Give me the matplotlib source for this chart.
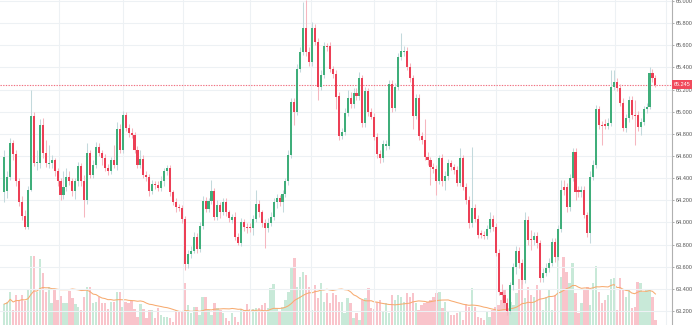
import numpy as np
import pandas as pd
import matplotlib
matplotlib.use("Agg")
import matplotlib.pyplot as plt
from matplotlib.ticker import FormatStrFormatter
from matplotlib.transforms import blended_transform_factory

plt.rcParams['font.family'] = ['Liberation Sans', 'DejaVu Sans']

# daily candles, oldest first
opens = [
    64.27, 64.28, 64.41, 64.72, 64.62, 64.37, 64.18, 64.06, 63.96, 64.29,
    64.96, 64.54, 64.54, 64.88, 64.63, 64.53, 64.54, 64.56, 64.46, 64.37,
    64.25, 64.32, 64.41, 64.37, 64.28, 64.37, 64.51, 64.37, 64.20, 64.63,
    64.43, 64.52, 64.68, 64.63, 64.58, 64.49, 64.46, 64.56, 64.52, 64.84,
    64.65, 64.97, 64.85, 64.81, 64.79, 64.65, 64.52, 64.57, 64.43, 64.41,
    64.28, 64.35, 64.34, 64.31, 64.37, 64.46, 64.49, 64.27, 64.18, 64.14,
    64.13, 64.03, 63.62, 63.71, 63.74, 63.87, 63.76, 63.97, 64.19, 64.12,
    64.19, 64.28, 64.05, 64.16, 64.09, 64.18, 64.09, 64.02, 64.05, 63.87,
    63.81, 64.00, 63.96, 63.96, 63.95, 64.03, 64.17, 64.09, 63.99, 63.95,
    63.99, 64.05, 64.18, 64.22, 64.18, 64.26, 64.37, 64.61, 65.09, 65.00,
    65.39, 65.54, 65.76, 65.54, 65.45, 65.76, 65.63, 65.22, 65.33, 65.59,
    65.59, 65.39, 65.34, 65.14, 64.78, 64.82, 64.99, 65.12, 65.07, 65.17,
    65.14, 65.30, 64.90, 65.19, 65.00, 64.95, 64.77, 64.62, 64.58, 64.69,
    64.69, 65.25, 65.03, 65.22, 65.49, 65.54, 65.55, 65.40, 65.30, 64.96,
    65.12, 64.78, 64.74, 64.59, 64.56, 64.50, 64.48, 64.37, 64.58, 64.37,
    64.42, 64.54, 64.50, 64.47, 64.36, 64.58, 64.32, 64.20, 63.99, 64.13,
    64.03, 63.90, 63.89, 63.88, 63.94, 64.03, 63.96, 63.72, 63.37, 63.34,
    63.27, 63.20, 63.43, 63.60, 63.74, 63.63, 63.48, 64.02, 63.85, 63.84,
    63.88, 63.81, 63.50, 63.54, 63.59, 63.63, 63.82, 63.69, 63.94, 64.32,
    64.32, 64.14, 64.40, 64.64, 64.29, 64.27, 64.29, 64.07, 63.90, 64.41,
    64.52, 65.02, 64.88, 64.89, 64.87, 64.90, 65.22, 65.27, 65.21, 65.08,
    64.85, 64.94, 65.11, 64.97, 64.97, 64.86, 64.91, 65.02, 65.04, 65.35,
    65.30,
]
highs = [
    64.65, 64.46, 64.76, 64.74, 64.65, 64.40, 64.24, 64.11, 64.33, 65.20,
    65.00, 64.65, 64.93, 64.94, 64.74, 64.70, 64.61, 64.58, 64.49, 64.40,
    64.46, 64.49, 64.46, 64.40, 64.40, 64.55, 64.54, 64.43, 64.72, 64.65,
    64.56, 64.73, 64.72, 64.65, 64.62, 64.53, 64.59, 64.70, 64.91, 64.89,
    65.01, 65.00, 64.89, 64.85, 64.82, 64.69, 64.65, 64.61, 64.46, 64.44,
    64.38, 64.37, 64.37, 64.42, 64.49, 64.52, 64.52, 64.29, 64.22, 64.17,
    64.16, 64.06, 63.75, 63.79, 63.91, 63.90, 64.00, 64.24, 64.23, 64.22,
    64.38, 64.31, 64.20, 64.18, 64.22, 64.22, 64.11, 64.08, 64.09, 63.90,
    64.04, 64.03, 63.99, 63.99, 64.07, 64.29, 64.20, 64.11, 64.03, 64.04,
    64.09, 64.22, 64.26, 64.25, 64.29, 64.40, 64.65, 65.12, 65.12, 65.43,
    65.58, 65.99, 66.01, 65.58, 65.81, 65.79, 65.67, 65.38, 65.63, 65.62,
    65.63, 65.41, 65.38, 65.18, 64.85, 65.03, 65.20, 65.18, 65.21, 65.21,
    65.36, 65.33, 65.22, 65.21, 65.03, 64.99, 64.81, 64.65, 64.74, 64.74,
    65.29, 65.29, 65.26, 65.53, 65.71, 65.59, 65.58, 65.44, 65.33, 65.16,
    65.16, 64.82, 64.93, 64.64, 64.59, 64.54, 64.52, 64.61, 64.62, 64.46,
    64.57, 64.56, 64.53, 64.51, 64.67, 64.61, 64.36, 64.24, 64.68, 64.17,
    64.07, 63.93, 63.92, 63.98, 64.09, 64.07, 63.99, 63.76, 63.44, 63.39,
    63.32, 63.46, 63.63, 63.79, 63.78, 63.67, 64.09, 64.06, 63.93, 63.91,
    63.91, 63.84, 63.59, 63.63, 63.68, 63.86, 63.86, 63.98, 64.38, 64.38,
    64.36, 64.44, 64.67, 64.67, 64.33, 64.33, 64.33, 64.09, 64.46, 64.56,
    65.06, 65.05, 64.92, 64.93, 64.94, 65.38, 65.38, 65.30, 65.25, 65.12,
    64.98, 65.14, 65.14, 65.11, 65.01, 64.94, 65.05, 65.08, 65.40, 65.39,
    65.33,
]
lows = [
    64.18, 64.22, 64.38, 64.56, 64.33, 64.15, 64.02, 63.94, 63.94, 64.28,
    64.51, 64.47, 64.49, 64.58, 64.50, 64.49, 64.49, 64.42, 64.33, 64.20,
    64.21, 64.28, 64.34, 64.24, 64.21, 64.33, 64.33, 64.05, 64.17, 64.40,
    64.40, 64.49, 64.60, 64.52, 64.46, 64.43, 64.44, 64.49, 64.47, 64.63,
    64.63, 64.83, 64.77, 64.76, 64.63, 64.49, 64.49, 64.40, 64.37, 64.24,
    64.26, 64.30, 64.28, 64.28, 64.33, 64.43, 64.24, 64.16, 64.09, 64.10,
    63.99, 63.57, 63.59, 63.68, 63.72, 63.72, 63.73, 63.94, 64.09, 64.09,
    64.17, 64.02, 64.02, 64.04, 64.07, 64.06, 64.00, 63.99, 63.84, 63.80,
    63.79, 63.92, 63.90, 63.91, 63.89, 64.00, 64.05, 63.96, 63.77, 63.91,
    63.97, 64.02, 64.13, 64.15, 64.09, 64.23, 64.34, 64.58, 64.88, 64.97,
    65.36, 65.51, 65.50, 65.41, 65.41, 65.60, 65.11, 65.20, 65.30, 65.55,
    65.36, 65.30, 65.02, 64.74, 64.75, 64.79, 64.96, 65.03, 65.03, 65.11,
    65.11, 64.86, 64.86, 64.96, 64.93, 64.74, 64.58, 64.54, 64.55, 64.65,
    64.66, 65.00, 65.01, 65.20, 65.47, 65.50, 65.38, 65.27, 64.84, 64.93,
    64.74, 64.71, 64.56, 64.52, 64.34, 64.45, 64.25, 64.35, 64.33, 64.29,
    64.38, 64.47, 64.44, 64.33, 64.33, 64.29, 64.17, 63.95, 63.96, 64.00,
    63.86, 63.86, 63.85, 63.85, 63.91, 63.92, 63.70, 63.34, 63.30, 63.24,
    63.16, 63.17, 63.39, 63.53, 63.59, 63.44, 63.45, 63.80, 63.75, 63.80,
    63.77, 63.46, 63.46, 63.52, 63.55, 63.61, 63.64, 63.66, 63.91, 64.25,
    64.09, 64.10, 64.37, 64.20, 64.23, 64.23, 64.04, 63.87, 63.81, 64.38,
    64.49, 64.84, 64.70, 64.84, 64.84, 64.87, 65.20, 65.19, 65.05, 64.83,
    64.82, 64.91, 64.93, 64.70, 64.83, 64.79, 64.88, 64.99, 65.02, 65.27,
    65.22,
]
closes = [
    64.59, 64.41, 64.72, 64.62, 64.37, 64.18, 64.06, 63.96, 64.29, 64.96,
    64.54, 64.55, 64.88, 64.63, 64.54, 64.54, 64.56, 64.46, 64.37, 64.25,
    64.32, 64.41, 64.37, 64.28, 64.37, 64.51, 64.37, 64.20, 64.63, 64.43,
    64.52, 64.68, 64.63, 64.58, 64.49, 64.46, 64.56, 64.52, 64.84, 64.65,
    64.97, 64.85, 64.81, 64.79, 64.65, 64.52, 64.57, 64.43, 64.41, 64.28,
    64.35, 64.34, 64.31, 64.37, 64.46, 64.49, 64.27, 64.18, 64.14, 64.13,
    64.03, 63.62, 63.71, 63.74, 63.87, 63.76, 63.97, 64.19, 64.12, 64.19,
    64.28, 64.05, 64.16, 64.09, 64.18, 64.09, 64.04, 64.05, 63.87, 63.81,
    64.00, 63.96, 63.95, 63.95, 64.03, 64.17, 64.09, 63.99, 63.95, 63.99,
    64.05, 64.18, 64.22, 64.18, 64.26, 64.37, 64.61, 65.09, 65.00, 65.39,
    65.54, 65.76, 65.54, 65.45, 65.76, 65.63, 65.22, 65.33, 65.59, 65.58,
    65.39, 65.34, 65.13, 64.78, 64.82, 64.99, 65.12, 65.07, 65.17, 65.14,
    65.30, 64.90, 65.19, 65.00, 64.95, 64.77, 64.62, 64.58, 64.71, 64.71,
    65.25, 65.03, 65.22, 65.49, 65.55, 65.55, 65.40, 65.30, 64.96, 65.12,
    64.78, 64.74, 64.59, 64.56, 64.50, 64.48, 64.37, 64.58, 64.37, 64.42,
    64.54, 64.50, 64.47, 64.36, 64.58, 64.32, 64.20, 63.99, 64.13, 64.03,
    63.89, 63.89, 63.88, 63.94, 64.03, 63.96, 63.72, 63.37, 63.34, 63.27,
    63.20, 63.43, 63.60, 63.74, 63.63, 63.48, 64.02, 63.84, 63.84, 63.88,
    63.81, 63.50, 63.54, 63.59, 63.63, 63.82, 63.69, 63.94, 64.29, 64.29,
    64.14, 64.40, 64.64, 64.27, 64.27, 64.29, 64.07, 63.90, 64.41, 64.52,
    65.02, 64.88, 64.87, 64.87, 64.90, 65.22, 65.27, 65.21, 65.08, 64.85,
    64.94, 65.11, 64.97, 64.96, 64.86, 64.91, 65.02, 65.04, 65.35, 65.30,
    65.245,
]
# traded volume per session, thousand lots
volumes = [
    21, 23, 33, 15, 30, 25, 30, 24, 35, 69, 69, 33, 66, 52, 33, 38,
    22, 35, 25, 29, 22, 22, 34, 27, 21, 18, 15, 28, 38, 38, 22, 23, 28, 22, 22,
    16, 23, 23, 33, 33, 18, 23, 22, 24, 16, 8, 21, 16, 7, 15, 15, 7, 17, 10,
    8, 8, 7, 3, 15, 13, 13, 42,
    20, 12, 18, 18, 10, 28, 28, 15, 10, 22, 17,
    15, 12, 7, 4, 12, 8, 3, 16, 15, 21, 16, 16, 17, 17, 20, 22, 17, 37, 41, 17,
    13, 18, 25, 33, 58, 67, 38, 48, 53, 50, 38, 15, 40, 27, 42, 23, 32, 22, 32,
    30, 23, 23, 12, 27, 22, 7, 12, 5, 25, 27, 37, 17, 16, 23, 25, 13, 22, 12, 30,
    25, 30, 28, 23, 32, 28, 32, 22, 15, 20, 22, 23, 25, 28, 32, 33, 17, 23, 13, 10,
    10, 12, 13, 5, 21, 18, 37,
    18, 8, 7, 5, 13, 8, 15, 18, 20, 25, 35, 15, 23, 20, 32, 46, 45, 27, 38, 30,
    28, 40, 35, 15, 28, 35, 15,
    30, 73, 48, 68, 53, 42, 62, 32, 12, 22, 35, 38, 20, 42, 59, 33, 22, 25, 30, 46,
    47, 15, 47, 35, 28, 35, 17, 18, 43, 42, 33, 36, 35, 28, 5,
]
price_ticks = [63.2, 63.4, 63.6, 63.8, 64.0, 64.2, 64.4, 64.6, 64.8,
               65.0, 65.2, 65.4, 65.6, 65.8, 66.0]
# candle index where each new month starts
month_starts = [18.5, 40, 60.5, 83, 103.5, 125, 146, 166, 187, 206.5, 223.5]

UP, DOWN = '#3fae7a', '#ec3f55'
UP_WICK, DOWN_WICK = '#c3d9dc', '#f6b6bf'
UP_VOL, DOWN_VOL = '#c8e9d8', '#f9c4cb'

o, h, l, c = map(np.array, (opens, highs, lows, closes))
x = np.arange(len(o))
up = c >= o
last_price = closes[-1]

fig = plt.figure(figsize=(6.92, 3.25), dpi=100)
ax = fig.add_axes([0, 0, 672 / 692, 1])
axv = ax.twinx()
ax.set_zorder(2)
axv.set_zorder(1)
ax.patch.set_visible(False)

# volume pane along the bottom, with its 20 session average
axv.bar(x, volumes, width=0.8, color=np.where(up, UP_VOL, DOWN_VOL), linewidth=0)
vol_ma = pd.Series(volumes).rolling(20, min_periods=1).mean()
axv.plot(x, vol_ma, color='#f7ab70', lw=0.75)
axv.set_ylim(0, 325)
axv.axis('off')

# candles
ax.vlines(x, l, h, colors=np.where(up, UP_WICK, DOWN_WICK), lw=0.75, zorder=3)
body_lo = np.minimum(o, c)
body_h = np.maximum(np.abs(c - o), 0.007)
ax.bar(x, body_h, bottom=body_lo, width=0.7, color=np.where(up, UP, DOWN),
       linewidth=0, zorder=4)

# last price marker
ax.axhline(last_price, color='#f07080', lw=0.8, ls=(0, (1.2, 1.2)), zorder=2)
trans = blended_transform_factory(ax.transAxes, ax.transData)
ax.text(1.003, last_price, f'{last_price:.3f}', transform=trans, ha='left', va='center',
        fontsize=4.0, color='white', clip_on=False, zorder=6,
        bbox=dict(boxstyle='square,pad=0.35', fc='#f04a5c', ec='none'))

ax.set_xlim(-1.45, 225.6)
ax.set_ylim(63.073, 66.009)
ax.set_yticks(price_ticks)
ax.set_xticks(month_starts)
ax.yaxis.tick_right()
ax.yaxis.set_major_formatter(FormatStrFormatter('%.3f'))
ax.tick_params(axis='y', length=1.6, width=0.6, color='#9a9a9a', labelsize=4.0,
               labelcolor='#555555', pad=0.8)
ax.tick_params(axis='x', length=0, labelbottom=False)
ax.grid(True, color='#edf1f4', lw=0.8, zorder=0)
for side in ('left', 'top', 'bottom'):
    ax.spines[side].set_visible(False)
ax.spines['right'].set_color('#b0b0b0')
ax.spines['right'].set_linewidth(0.8)

fig.savefig('out.png', dpi=100)
